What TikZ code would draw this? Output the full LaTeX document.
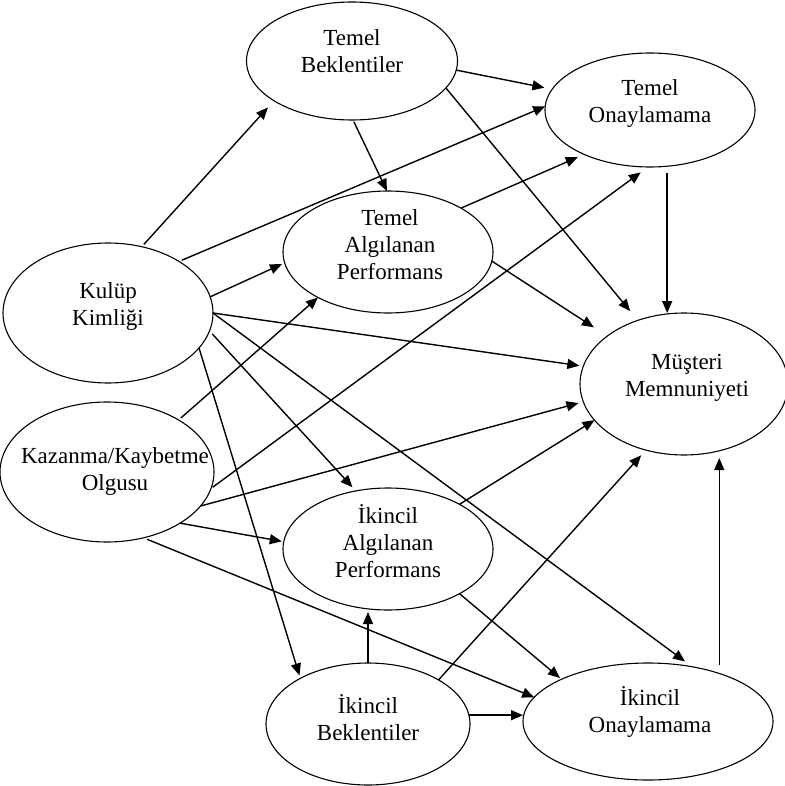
\documentclass[tikz,border=0pt]{standalone}
\usepackage{fontspec}
\setmainfont{Liberation Serif}
\usetikzlibrary{arrows.meta,shapes.geometric}
\newcommand{\mlines}[1]{\begin{tabular}{@{}c@{}}#1\end{tabular}}
\begin{document}
\begin{tikzpicture}[x=1pt,y=-1pt,
  ell/.style={draw, ellipse, line width=1.1pt, inner sep=0pt, outer sep=0pt},
  lbl/.style={font=\fontsize{23}{27}\selectfont, inner sep=0pt},
  arr/.style={line width=1.4pt, -{Triangle[length=12pt,width=10pt]}}]
\useasboundingbox (0,0) rectangle (784,786);
% ellipses
\node[ell, minimum width=211pt, minimum height=118pt] (tbk) at (352,61) {};
\node[ell, minimum width=210pt, minimum height=114pt] (ton) at (650,110) {};
\node[ell, minimum width=210pt, minimum height=122pt] (tap) at (388,252) {};
\node[ell, minimum width=210pt, minimum height=140pt] (kk) at (108,313) {};
\node[ell, minimum width=214pt, minimum height=140pt] (kz) at (107,472) {};
\node[ell, minimum width=208pt, minimum height=142pt] (mm) at (684,384) {};
\node[ell, minimum width=210pt, minimum height=122pt] (iap) at (388,549) {};
\node[ell, minimum width=204pt, minimum height=122pt] (ib) at (368,724) {};
\node[ell, minimum width=250pt, minimum height=117pt] (io) at (648,721.5) {};
% texts
\node[lbl] (tbkt) at (352,54) {\mlines{Temel\\Beklentiler}};
\node[lbl] (tont) at (650,104) {\mlines{Temel\\Onaylamama}};
\node[lbl] (tapt) at (390,247) {\mlines{Temel\\Algılanan\\Performans}};
\node[lbl] (kkt) at (108,307) {\mlines{Kulüp\\Kimliği}};
\node[lbl] (kzt) at (115,472) {\mlines{Kazanma/Kaybetme\\Olgusu}};
\node[lbl] (mmt) at (687,378) {\mlines{Müşteri\\Memnuniyeti}};
\node[lbl] (iapt) at (388,545) {\mlines{İkincil\\Algılanan\\Performans}};
\node[lbl] (ibt) at (368,722) {\mlines{İkincil\\Beklentiler}};
\node[lbl] (iot) at (650,714) {\mlines{İkincil\\Onaylamama}};
% connectors
\draw[arr, shorten <=3pt, shorten >=9pt] (kk.63) -- (tbk.207);
\draw[arr, shorten <=3pt] (kk.36) -- (ton.178);
\draw[arr, shorten >=8pt] (tbk.-5) -- (ton.168);
\draw[arr, shorten <=2pt] (tbk.-89) -- (tap.91);
\draw[arr, shorten >=12pt] (tbk.-16.5) -- (mm.126);
\draw[arr, shorten <=7pt] (ton.-73) -- (ton.-73 |- mm.north);
\draw[arr, shorten >=7pt] (tap.31) -- (ton.214);
\draw[arr, shorten <=2pt, shorten >=9pt] (kz.-9) -- (ton.-92);
\draw[arr, shorten >=16pt] (tap.-5) -- (mm.148);
\draw[arr, shorten >=3pt] (kk.9) -- (tap.186.5);
\draw[arr, shorten >=4pt] (kk.-0.5) -- (mm.170);
\draw[arr, shorten <=4pt, shorten >=5pt] (kk.-10) -- (iap.119);
\draw[arr, shorten >=9pt] (kk.-0.5) -- (io.51);
\draw[arr, shorten >=3pt] (kk.-21.5) -- (ib.146.5);
\draw[arr, shorten <=3pt] (kz.36.5) -- (tap.213);
\draw[arr, shorten >=5pt] (kz.-20) -- (mm.190);
\draw[arr, shorten <=4pt] (kz.-61) -- (io.168);
\draw[arr, shorten >=2pt] (kz.-35) -- (iap.176);
\draw[arr] (iap.32) -- (mm.202.5);
\draw[arr, shorten >=2pt] (iap.-32) -- (io.154);
\draw[arr, shorten >=2pt] (ib.north) -- (ib.north |- iap.south);
\draw[arr, shorten >=7pt] (ib.32.5) -- (mm.240);
\draw[arr] (ib.5) -- (ib.5 -| io.west);
\draw[arr, shorten <=8pt, shorten >=3pt] (io.34) -- (io.34 |- mm.south);
\end{tikzpicture}
\end{document}
